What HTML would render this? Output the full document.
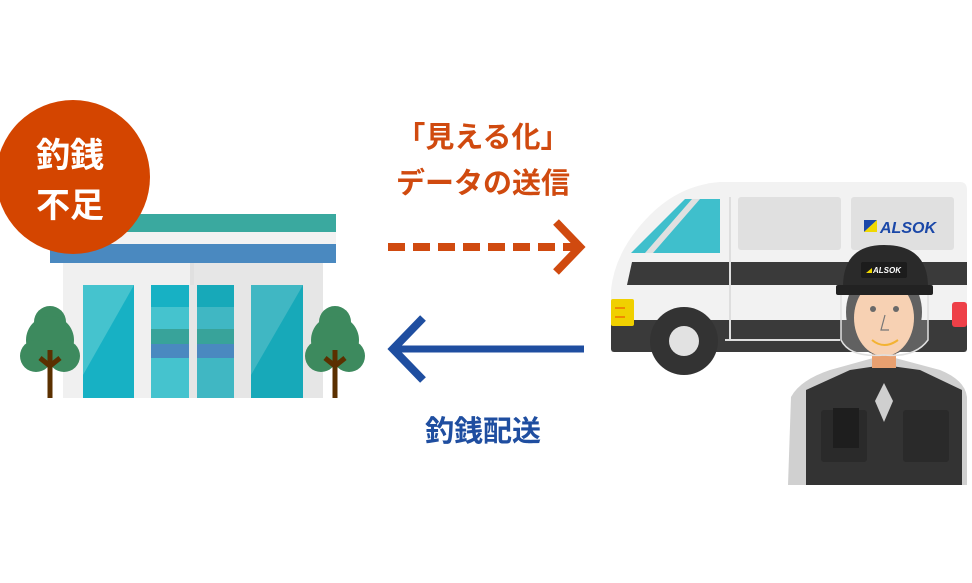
<!DOCTYPE html>
<html><head><meta charset="utf-8"><style>
html,body{margin:0;padding:0;background:#fff;}
svg{display:block}
text{font-family:"Liberation Sans","Noto Sans CJK JP",sans-serif;font-weight:bold;}
</style></head><body>
<svg width="972" height="583" viewBox="0 0 972 583" xmlns="http://www.w3.org/2000/svg">
<!-- store -->
<rect x="63" y="258" width="260" height="140" fill="#f0f0f0"/>
<rect x="193" y="263" width="130" height="135" fill="#e6e6e6"/>
<rect x="190" y="263" width="4" height="135" fill="#e0e0e0"/>
<rect x="50" y="214" width="286" height="18" fill="#3aa99f"/>
<rect x="50" y="232" width="286" height="12" fill="#f2f2f2"/>
<rect x="50" y="244" width="286" height="19" fill="#4a89c0"/>
<rect x="83" y="285" width="51" height="113" fill="#17b1c4"/>
<polygon points="83,285 134,285 83,375" fill="#45c3ce"/>
<rect x="251" y="285" width="52" height="113" fill="#17a9b9"/>
<polygon points="251,285 303,285 251,375" fill="#40b7c3"/>
<rect x="151" y="285" width="38" height="113" fill="#45c3ce"/>
<rect x="151" y="285" width="38" height="22" fill="#17b1c4"/>
<rect x="197" y="285" width="37" height="113" fill="#40b7c3"/>
<rect x="197" y="285" width="37" height="22" fill="#17a9b9"/>
<rect x="151" y="329" width="83" height="15" fill="#38a39a"/>
<rect x="151" y="344" width="83" height="14" fill="#4a89c0"/>
<rect x="189" y="285" width="8" height="113" fill="#e6e6e6"/>
<!-- trees -->
<g fill="#3d8a5e">
<circle cx="50" cy="322" r="16"/><circle cx="50" cy="340" r="24"/><circle cx="36" cy="356" r="16"/><circle cx="64" cy="356" r="16"/>
<circle cx="335" cy="322" r="16"/><circle cx="335" cy="340" r="24"/><circle cx="321" cy="356" r="16"/><circle cx="349" cy="356" r="16"/>
</g>
<g stroke="#5b3000" stroke-width="5" fill="none">
<path d="M50 350V398M40 358L50 366L60 358"/>
<path d="M335 350V398M325 358L335 366L345 358"/>
</g>
<!-- badge -->
<circle cx="73" cy="177" r="77" fill="#d44500"/>
<text x="70" y="167" font-size="34" fill="#fff" text-anchor="middle">釣銭</text>
<text x="70" y="217" font-size="34" fill="#fff" text-anchor="middle">不足</text>
<!-- arrows text -->
<text x="483" y="147" font-size="29" fill="#d04a0f" text-anchor="middle">「見える化」</text>
<text x="483" y="193" font-size="29" fill="#d04a0f" text-anchor="middle">データの送信</text>
<line x1="388" y1="247" x2="576" y2="247" stroke="#d04a0f" stroke-width="8" stroke-dasharray="17,8"/>
<polyline points="556,222 580,247 556,272" fill="none" stroke="#d04a0f" stroke-width="8"/>
<line x1="396" y1="349" x2="584" y2="349" stroke="#1f4ea0" stroke-width="7"/>
<polyline points="423,318 393,349 423,380" fill="none" stroke="#1f4ea0" stroke-width="8"/>
<text x="483" y="441" font-size="29" fill="#1f4ea0" text-anchor="middle">釣銭配送</text>
<!-- van -->
<path d="M611 352 V290 Q615 250 650 215 Q680 185 720 182 H960 Q967 182 967 190 V352 Z" fill="#f2f2f2"/>
<polygon points="631,253 685,199 720,199 720,253" fill="#3fbfcc"/>
<polygon points="645,253 692,199 700,199 653,253" fill="#e0e0e0"/>
<rect x="738" y="197" width="103" height="53" rx="3" fill="#e0e0e0"/>
<rect x="851" y="197" width="103" height="53" rx="3" fill="#e0e0e0"/>
<path d="M632 262 H967 V285 H627 Z" fill="#3a3a3a"/>
<rect x="611" y="320" width="356" height="32" rx="3" fill="#3a3a3a"/>
<line x1="730" y1="197" x2="730" y2="340" stroke="#dedede" stroke-width="2"/>
<line x1="725" y1="340" x2="840" y2="340" stroke="#dedede" stroke-width="2"/>
<rect x="611" y="299" width="23" height="27" rx="2" fill="#f0d000"/>
<rect x="615" y="307" width="10" height="2" fill="#f08a00"/><rect x="615" y="316" width="10" height="2" fill="#f08a00"/>
<rect x="952" y="302" width="15" height="25" rx="3" fill="#ee4048"/>
<circle cx="684" cy="341" r="34" fill="#333"/>
<circle cx="684" cy="341" r="15" fill="#e2e2e2"/>
<polygon points="864,220 877,220 864,232" fill="#1b48a8"/>
<polygon points="864,232 877,220 877,232" fill="#f0d800"/>
<text x="880" y="233" font-size="16" font-style="italic" fill="#1b48a8">ALSOK</text>
<!-- person -->
<path d="M791 397 Q800 380 830 370 L884 355 L940 370 Q965 380 967 397 V485 H788 Z" fill="#d0d0d0"/>
<path d="M806 390 L850 370 L884 365 L920 370 L962 390 V485 H806 Z" fill="#333"/>
<polygon points="884,383 893,401 884,422 875,401" fill="#cfcfcf"/>
<rect x="821" y="410" width="46" height="52" rx="3" fill="#2a2a2a"/>
<rect x="833" y="408" width="26" height="40" fill="#1e1e1e"/>
<rect x="903" y="410" width="46" height="52" rx="3" fill="#2a2a2a"/>
<rect x="872" y="340" width="24" height="28" fill="#e8a070"/>
<ellipse cx="884" cy="312" rx="38" ry="44" fill="#3a3a3a"/>
<ellipse cx="884" cy="318" rx="30" ry="38" fill="#f5c6a0"/>
<circle cx="873" cy="309" r="3" fill="#444"/><circle cx="896" cy="309" r="3" fill="#444"/>
<path d="M885 315 L881 330 L889 330" fill="none" stroke="#555" stroke-width="1.2"/>
<path d="M872 340 Q884 350 898 340" fill="none" stroke="#f0a000" stroke-width="2"/>
<path d="M841 294 H928 V340 Q915 358 884 355 Q850 358 841 340 Z" fill="#ffffff" fill-opacity="0.2" stroke="#e0e0e0" stroke-width="1.5"/>
<path d="M843 287 Q843 245 884 245 Q928 245 928 287 Z" fill="#2a2a2a"/>
<rect x="836" y="285" width="97" height="10" rx="2" fill="#222"/>
<rect x="861" y="262" width="46" height="16" rx="2" fill="#1c1c1c"/>
<polygon points="866,273 872,268 872,273" fill="#f0d800"/>
<text x="873" y="273" font-size="8" font-style="italic" fill="#fff">ALSOK</text>
</svg>
</body></html>
